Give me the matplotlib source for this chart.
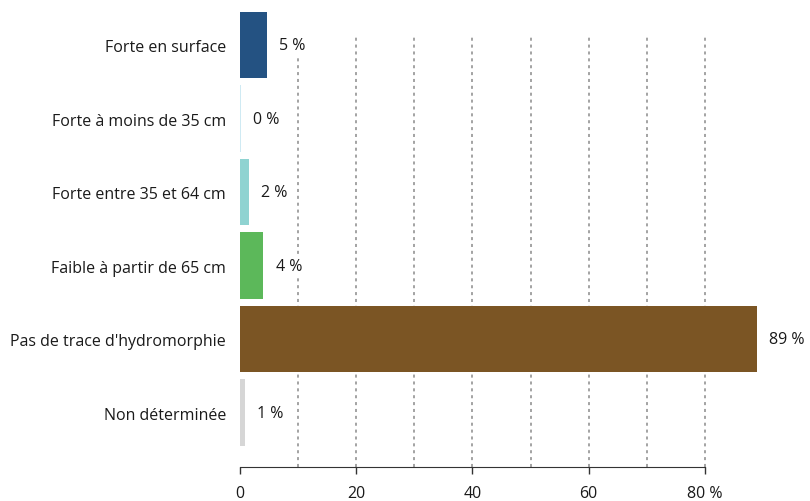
import matplotlib
matplotlib.use("Agg")
import matplotlib.pyplot as plt

plt.rcParams['font.family'] = ['Open Sans', 'DejaVu Sans']

categories = ["Forte en surface", "Forte à moins de 35 cm", "Forte entre 35 et 64 cm",
              "Faible à partir de 65 cm", "Pas de trace d'hydromorphie", "Non déterminée"]
values = [4.6, 0.15, 1.5, 4.0, 88.9, 0.8]
labels = ["5 %", "0 %", "2 %", "4 %", "89 %", "1 %"]
colors = ["#245282", "#cfeaf3", "#8fd3d1", "#5cb85a", "#7b5524", "#d6d6d6"]
xticks = [0, 20, 40, 60, 80]
xticklabels = ["0", "20", "40", "60", "80 %"]
grid_x = [10, 20, 30, 40, 50, 60, 70, 80]

fig = plt.figure(figsize=(8.1, 5.02), dpi=100)
ax = fig.add_axes([240 / 810, 34 / 502, (763 - 240) / 810, (489 - 34) / 502])

ypos = [-i for i in range(len(categories))]

ax.vlines(grid_x, -5.74, 0.15, colors="#8a8a8a", linestyles=(0, (2, 2.5)),
          linewidth=1.1, zorder=1)
ax.barh(ypos, values, height=0.905, color=colors, zorder=2)

for y, v, lab in zip(ypos, values, labels):
    ax.annotate(lab, (v, y), xytext=(9, 0), textcoords="offset points",
                va="center", ha="left", fontsize=11.5, color="#1a1a1a", zorder=3,
                bbox=dict(facecolor="white", edgecolor="none", pad=1))

ax.set_ylim(-5.74, 0.45)
ax.set_xlim(0, 90)
ax.set_yticks(ypos)
ax.set_yticklabels(categories, fontsize=11.5, color="#1a1a1a")
ax.tick_params(axis="y", length=0, pad=10)
ax.set_xticks(xticks)
ax.set_xticklabels(xticklabels, fontsize=11.5, color="#1a1a1a")
ax.tick_params(axis="x", length=5, width=1, color="#333333", pad=8)
for s in ["top", "right", "left"]:
    ax.spines[s].set_visible(False)
ax.spines["bottom"].set_bounds(0, 80)
ax.spines["bottom"].set_color("#333333")

fig.savefig("out.png", dpi=100)
